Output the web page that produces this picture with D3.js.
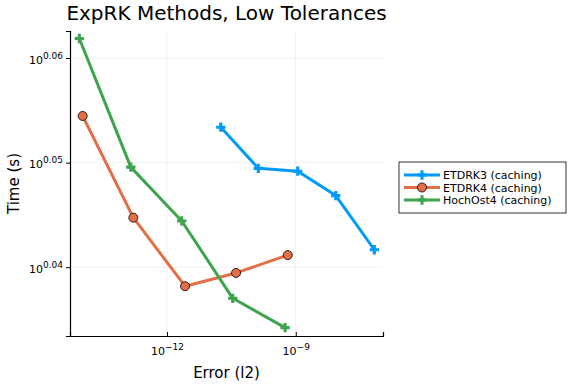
<!DOCTYPE html>
<html>
<head>
<meta charset="utf-8">
<script src="https://d3js.org/d3.v7.min.js"></script>
<style>
  body { margin: 0; background: #fff; }
  svg { display: block; }
  svg text { font-family: "DejaVu Sans", sans-serif; }
</style>
</head>
<body>
<svg id="chart" width="576" height="384"></svg>
<script>
// values (error in l2, time in seconds)
const seriesNames = ['ETDRK3 (caching)', 'ETDRK4 (caching)', 'HochOst4 (caching)'];
const etdrk3Err = [1.79e-11, 1.34e-10, 1.11e-9, 8.55e-9, 6.79e-8];
const etdrk3Time = [1.1308, 1.1206, 1.1199, 1.1139, 1.1007];
const etdrk4Err = [1.08e-14, 1.64e-13, 2.63e-12, 4.06e-11, 6.52e-10];
const etdrk4Time = [1.1336, 1.1085, 1.0919, 1.0951, 1.0994];
const hochErr = [9.04e-15, 1.43e-13, 2.20e-12, 3.40e-11, 5.64e-10];
const hochTime = [1.1531, 1.1209, 1.1077, 1.0890, 1.0820];
const xTickExp = [-12, -9];
const yTickExp = ['0.04', '0.05', '0.06'];

const colors = ['#009afa', '#e36f47', '#3ea44e'];
const markers = ['cross', 'circle', 'cross'];

const series = [
  {name: seriesNames[0], err: etdrk3Err, time: etdrk3Time},
  {name: seriesNames[1], err: etdrk4Err, time: etdrk4Time},
  {name: seriesNames[2], err: hochErr, time: hochTime}
];

const margin = {left: 70, top: 31, right: 193, bottom: 48};
const W = 576, H = 384;
const pw = W - margin.left - margin.right, ph = H - margin.top - margin.bottom;

const svg = d3.select('#chart');
const g = svg.append('g').attr('transform', `translate(${margin.left},${margin.top})`);

const x = d3.scaleLog().domain([5.48e-15, 1.08e-7]).range([0, pw]);
const y = d3.scaleLog().domain([1.0800, 1.1550]).range([ph, 0]);

const xTicks = xTickExp.map(e => Math.pow(10, e));
const yTicks = yTickExp.map(e => Math.pow(10, +e));

// grid
g.append('g').selectAll('line').data(xTicks).join('line')
  .attr('x1', d => x(d)).attr('x2', d => x(d))
  .attr('y1', 0).attr('y2', ph)
  .attr('stroke', '#000').attr('stroke-opacity', 0.1).attr('stroke-width', 0.6);
g.append('g').selectAll('line').data(yTicks).join('line')
  .attr('y1', d => y(d)).attr('y2', d => y(d))
  .attr('x1', 0).attr('x2', pw)
  .attr('stroke', '#000').attr('stroke-opacity', 0.1).attr('stroke-width', 0.6);

// axes
const xAxis = g.append('g').attr('transform', `translate(0,${ph})`)
  .call(d3.axisBottom(x).tickValues(xTicks).tickSize(-4).tickFormat(''));
const yAxis = g.append('g')
  .call(d3.axisLeft(y).tickValues(yTicks).tickSize(4).tickFormat(''));
[xAxis, yAxis].forEach(a => {
  a.attr('font-family', null).attr('font-size', null);
  a.select('.domain').attr('stroke', '#000').attr('stroke-width', 1.2);
  a.selectAll('.tick line').attr('stroke', '#000');
});

// tick labels with superscripts
xAxis.selectAll('.tick').append('text')
  .attr('y', 19).attr('text-anchor', 'middle').attr('fill', '#000')
  .style('font-size', '11px')
  .each(function(d, i) {
    const t = d3.select(this);
    t.append('tspan').text('10');
    t.append('tspan').attr('dy', -5).style('font-size', '9px').text('\u2212' + Math.abs(xTickExp[i]));
  });
yAxis.selectAll('.tick').append('text')
  .attr('x', -7).attr('dy', 5).attr('text-anchor', 'end').attr('fill', '#000')
  .style('font-size', '11px')
  .each(function(d, i) {
    const t = d3.select(this);
    t.append('tspan').text('10');
    t.append('tspan').attr('dy', -5).style('font-size', '9px').text(yTickExp[i]);
  });

// lines and markers
const line = d3.line().x(d => x(d[0])).y(d => y(d[1]));
series.forEach((s, i) => {
  const pts = s.err.map((e, k) => [e, s.time[k]]);
  g.append('path').datum(pts).attr('d', line)
    .attr('fill', 'none').attr('stroke', colors[i]).attr('stroke-width', 3)
    .attr('stroke-linejoin', 'round');
  const sym = markers[i] === 'circle'
    ? d3.symbol(d3.symbolCircle, 64)
    : d3.symbol(d3.symbolCross, 48);
  g.append('g').selectAll('path').data(pts).join('path')
    .attr('transform', d => `translate(${x(d[0])},${y(d[1])})`)
    .attr('d', sym)
    .attr('fill', colors[i])
    .attr('stroke', markers[i] === 'circle' ? '#000' : 'none')
    .attr('stroke-width', 0.8);
});

// title and axis labels
svg.append('text').attr('x', margin.left + pw / 2).attr('y', 20)
  .attr('text-anchor', 'middle').style('font-size', '20px').text('ExpRK Methods, Low Tolerances');
svg.append('text').attr('x', margin.left + pw / 2).attr('y', 378)
  .attr('text-anchor', 'middle').style('font-size', '15px').text('Error (l2)');
svg.append('text').attr('transform', `translate(19,${margin.top + ph / 2}) rotate(-90)`)
  .attr('text-anchor', 'middle').style('font-size', '15px').text('Time (s)');

// legend
const lg = svg.append('g').attr('transform', 'translate(399,162)');
lg.append('rect').attr('width', 167).attr('height', 51)
  .attr('fill', '#fff').attr('stroke', '#000').attr('stroke-width', 0.8);
series.forEach((s, i) => {
  const yy = 13 + i * 12.5;
  lg.append('line').attr('x1', 5).attr('x2', 41).attr('y1', yy).attr('y2', yy)
    .attr('stroke', colors[i]).attr('stroke-width', 3);
  const sym = markers[i] === 'circle'
    ? d3.symbol(d3.symbolCircle, 64)
    : d3.symbol(d3.symbolCross, 48);
  lg.append('path').attr('transform', `translate(23,${yy})`).attr('d', sym)
    .attr('fill', colors[i]).attr('stroke', markers[i] === 'circle' ? '#000' : 'none')
    .attr('stroke-width', 0.8);
  lg.append('text').attr('x', 44).attr('y', yy + 4).style('font-size', '11px').text(s.name);
});
</script>
</body>
</html>
